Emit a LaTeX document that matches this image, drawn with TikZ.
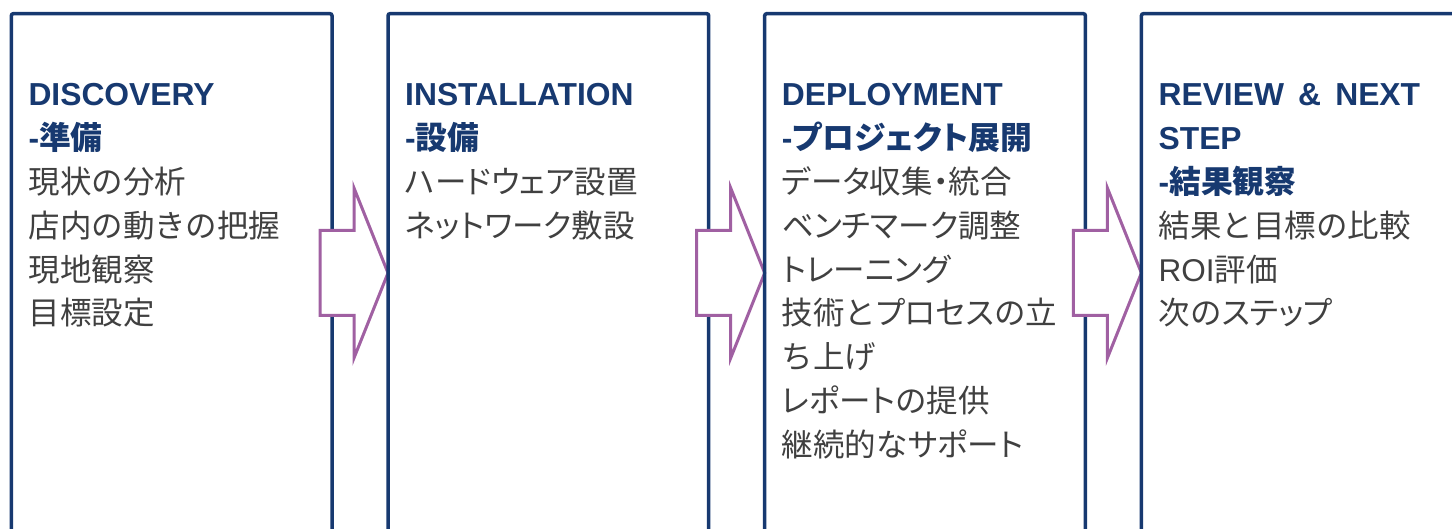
\documentclass[tikz,border=0pt]{standalone}
\usepackage{fontspec}
\setmainfont{Liberation Sans}
\newfontfamily\cjk{Noto Sans CJK JP}
\newfontfamily\kana{Noto Sans CJK JP}[RawFeature=+palt]
\definecolor{navy}{RGB}{23,57,112}
\definecolor{bodygray}{RGB}{64,64,64}
\definecolor{arrowc}{RGB}{160,96,162}
\tikzset{
  stagebox/.style={draw=navy, line width=3.5pt, rounded corners=2pt, minimum width=320.7pt, minimum height=640pt, anchor=north west, inner sep=0pt, outer sep=0pt},
  flowarrow/.style={draw=arrowc, fill=white, line width=3pt, line join=miter},
  head/.style={anchor=base west, inner sep=0pt, text=navy, font=\fontsize{31.8}{40}\selectfont\bfseries},
  item/.style={anchor=base west, inner sep=0pt, text=bodygray, font=\fontsize{31.5}{40}\selectfont\cjk},
  pics/blockarrow/.style={code={
    \draw[flowarrow] (-68,-42.5) -- (-34,-42.5) -- (-34,-85) -- (0,0) -- (-34,85) -- (-34,42.5) -- (-68,42.5) -- cycle;
  }}
}
\begin{document}
\begin{tikzpicture}[x=1pt,y=-1pt]
\useasboundingbox (0,0) rectangle (1452,529);
\clip (0,0) rectangle (1452,529);
% boxes and arrows
\node[stagebox] (box1) at (11.3,13.7) {};
\pic (arr1) at (388,273) {blockarrow};
\node[stagebox] (box2) at (388,13.7) {};
\pic (arr2) at (764.7,273) {blockarrow};
\node[stagebox] (box3) at (764.7,13.7) {};
\pic (arr3) at (1141.4,273) {blockarrow};
\node[stagebox] (box4) at (1141.4,13.7) {};
% box 1
\node[head] (a1) at (28.3,106) {DISCOVERY};
\node[head] (a2) at (28.3,149.8) {-{\cjk 準備}};
\node[item] (a3) at (28.3,193.6) {現状の分析};
\node[item] (a4) at (28.3,237.4) {店内の動きの把握};
\node[item] (a5) at (28.3,281.2) {現地観察};
\node[item] (a6) at (28.3,325) {目標設定};
% box 2
\node[head] (b1) at (405,106) {INSTALLATION};
\node[head] (b2) at (405,149.8) {-{\cjk 設備}};
\node[item] (b3) at (405,193.6) {{\kana ハードウェア}設置};
\node[item] (b4) at (405,237.4) {{\kana ネットワーク}敷設};
% box 3
\node[head] (c1) at (781.7,106) {DEPLOYMENT};
\node[head] (c2) at (781.7,149.8) {-{\kana プロジェクト}{\cjk 展開}};
\node[item] (c3) at (781.7,193.6) {{\kana データ}収集{\kana ・}統合};
\node[item] (c4) at (781.7,237.4) {{\kana ベンチマーク}調整};
\node[item] (c5) at (781.7,281.2) {{\kana トレーニング}};
\node[item] (c6) at (781.7,325) {技術と{\kana プロセス}の立};
\node[item] (c7) at (781.7,368.8) {ち上げ};
\node[item] (c8) at (781.7,412.6) {{\kana レポート}の提供};
\node[item] (c9) at (781.7,456.4) {継続的な{\kana サポート}};
% box 4
\node[head] (d1) at (1158.4,106) {REVIEW \,\&\, NEXT};
\node[head] (d2) at (1158.4,149.8) {STEP};
\node[head] (d3) at (1158.4,193.6) {-{\cjk 結果観察}};
\node[item] (d4) at (1158.4,237.4) {結果と目標の比較};
\node[item] (d5) at (1158.4,281.2) {{\rmfamily ROI}評価};
\node[item] (d6) at (1158.4,325) {次の{\kana ステップ}};
\end{tikzpicture}
\end{document}
